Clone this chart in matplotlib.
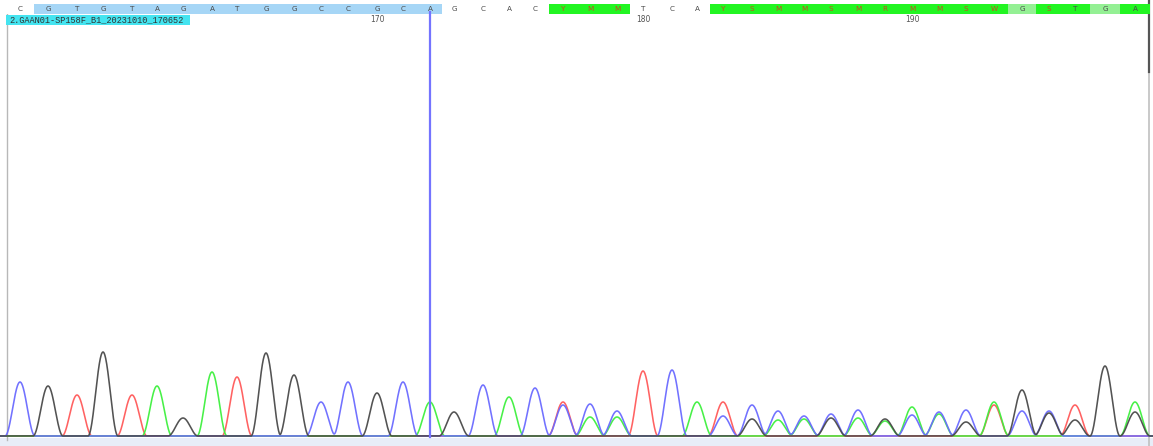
import numpy as np
import matplotlib
matplotlib.use("Agg")
import matplotlib.pyplot as plt
from matplotlib.patches import Rectangle

# ---- trace data -------------------------------------------------------------
sample_name = "2.GAAN01-SP158F_B1_20231010_170652"
first_base = 157
base_calls = list("CGTGTAGATGGCCGCAGCACYMMTCAYSMMSMRMMSWGSTGA")
peak_scan = [20, 48, 77, 103, 132, 157, 183, 212, 237, 266, 294, 321, 348, 377,
             403, 430, 454, 483, 509, 535, 563, 590, 617, 643, 672, 697, 723, 752,
             778, 804, 831, 858, 885, 912, 939, 966, 994, 1022, 1049, 1075, 1105, 1135]
# peak heights per dye channel at each called position
signal_G = [0, 50, 0, 84, 0, 0, 18, 0, 0, 83, 61, 0, 0, 43, 0, 0, 24, 0, 0, 0,
            0, 0, 0, 0, 0, 0, 0, 17, 0, 0, 18, 0, 17, 0, 0, 14, 0, 46, 23, 16, 70, 24]
signal_C = [54, 0, 0, 0, 0, 0, 0, 0, 0, 0, 0, 34, 54, 0, 54, 0, 0, 51, 0, 48,
            31, 32, 25, 0, 66, 0, 20, 31, 25, 20, 22, 26, 0, 21, 24, 26, 0, 25, 25, 0, 0, 0]
signal_A = [0, 0, 0, 0, 0, 50, 0, 64, 0, 0, 0, 0, 0, 0, 0, 34, 0, 0, 39, 0,
            0, 19, 19, 0, 0, 34, 0, 0, 16, 17, 0, 18, 15, 29, 22, 0, 34, 0, 0, 0, 0, 34]
signal_T = [0, 0, 41, 0, 41, 0, 0, 0, 59, 0, 0, 0, 0, 0, 0, 0, 0, 0, 0, 0,
            34, 0, 0, 65, 0, 0, 34, 0, 0, 0, 0, 0, 0, 0, 0, 0, 31, 0, 0, 31, 0, 0]
# cell shading: W plain, B selected, G mixed/low quality, L medium quality
cell_shade = "W" + "B" * 15 + "W" * 4 + "G" * 3 + "W" * 3 + "G" * 11 + "L" + "GG" + "L" + "G"
position_labels = [170, 180, 190]
cursor_base = 172

# ---- figure ---------------------------------------------------------------
W, H = 1153, 446
fig = plt.figure(figsize=(W / 100, H / 100), dpi=100)
fig.patch.set_facecolor("white")

bg = fig.add_axes([0, 0, 1, 1], zorder=0)
bg.set_xlim(0, W)
bg.set_ylim(H, 0)
bg.axis("off")
bg.add_patch(Rectangle((0, 438), W, H - 438, color="#e8edf8", lw=0))
bg.plot([7, 7], [14, 440], color="#b8b8b8", lw=1)
bg.plot([1149, 1149], [0, H], color="#c0c0c0", lw=1.2)
bg.plot([1149, 1149], [0, 72], color="#555555", lw=1.6)

# chromatogram traces
base_px, top_px = 437, 25
tr = fig.add_axes([0, (H - base_px) / H, 1, (base_px - top_px) / H], zorder=1)
tr.set_xlim(0, W)
tr.set_ylim(-1, base_px - top_px - 1)
tr.patch.set_alpha(0)
tr.axis("off")

x = np.linspace(0, W, 6000)
half_width = 15.0
scans = np.array(peak_scan, dtype=float)


def trace(heights):
    # each peak is a raised-cosine bump of the given height
    h = np.array(heights, dtype=float)
    d = (x[None, :] - scans[:, None]) / half_width
    bump = np.where(np.abs(d) < 1, np.cos(0.5 * np.pi * d) ** 2, 0.0)
    return (h[:, None] * bump).sum(axis=0)


channels = [(signal_T, "#ff5a5a"), (signal_A, "#3ef03e"),
            (signal_C, "#6a6aff"), (signal_G, "#4a4a4a")]
for heights, col in channels:
    tr.plot(x, trace(heights), color=col, lw=1.15, solid_joinstyle="round", alpha=0.95)

# sequence bar, sample label, position ticks and cursor
ov = fig.add_axes([0, 0, 1, 1], zorder=2)
ov.set_xlim(0, W)
ov.set_ylim(H, 0)
ov.patch.set_alpha(0)
ov.axis("off")

shade_colors = {"W": "white", "B": "#a6d6f6", "G": "#22f522", "L": "#94f094"}
edges = [scans[0] - (scans[1] - scans[0]) / 2]
edges += list((scans[:-1] + scans[1:]) / 2)
edges += [scans[-1] + (scans[-1] - scans[-2]) / 2]
for i, (call, shade) in enumerate(zip(base_calls, cell_shade)):
    ov.add_patch(Rectangle((edges[i], 4), edges[i + 1] - edges[i], 9.5,
                           color=shade_colors[shade], lw=0))
    col = "#c8481e" if call not in "ACGT" else "#4a4a4a"
    ov.text(scans[i], 9, call, ha="center", va="center", fontsize=5.2,
            color=col, family="DejaVu Sans")

ov.add_patch(Rectangle((6, 14.5), 184, 10.5, color="#44e4f0", lw=0))
ov.text(9, 20, sample_name, ha="left", va="center", fontsize=6.2,
        family="Liberation Mono", color="#333333")

for pos in position_labels:
    ov.text(scans[pos - first_base], 19, str(pos), ha="center", va="center",
            fontsize=5.5, color="#555555")

cx = scans[cursor_base - first_base]
ov.plot([cx, cx], [12, base_px], color="#7474ff", lw=1.6)

fig.savefig("out.png", dpi=100)
